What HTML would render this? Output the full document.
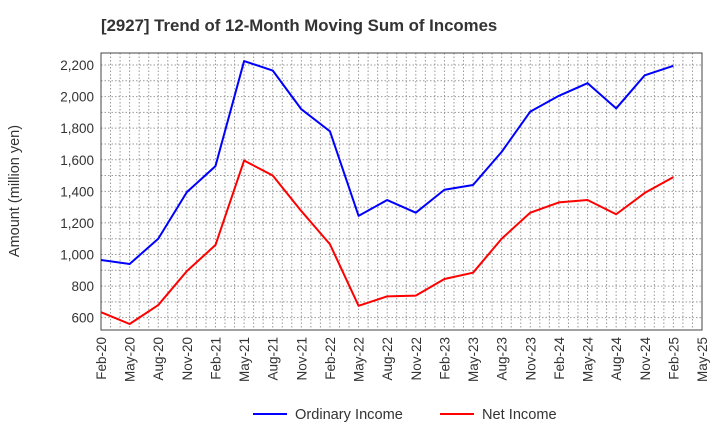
<!DOCTYPE html>
<html><head><meta charset="utf-8"><style>
body{margin:0;background:#fff;font-family:"Liberation Sans",Arial,sans-serif}
</style></head><body>
<svg id="chart" width="720" height="440" xmlns="http://www.w3.org/2000/svg" font-family="Liberation Sans, Arial, sans-serif">
<text x="101" y="31" font-size="16.8" font-weight="bold" fill="#333">[2927]  Trend of 12-Month Moving Sum of Incomes</text>
<text transform="translate(19,191) rotate(-90)" text-anchor="middle" font-size="14.5" fill="#333">Amount (million yen)</text>
<g id="grid"></g><g id="axes"></g><g id="series"></g>
<g>
<line x1="253" y1="414" x2="287" y2="414" stroke="#0000ff" stroke-width="2"/>
<text x="295" y="419" font-size="14.6" fill="#333">Ordinary Income</text>
<line x1="440" y1="414" x2="474" y2="414" stroke="#ff0000" stroke-width="2"/>
<text x="482" y="419" font-size="14.6" fill="#333">Net Income</text>
</g>
</svg>
<script>
const categories=["Feb-20","May-20","Aug-20","Nov-20","Feb-21","May-21","Aug-21","Nov-21","Feb-22","May-22","Aug-22","Nov-22","Feb-23","May-23","Aug-23","Nov-23","Feb-24","May-24","Aug-24","Nov-24","Feb-25","May-25"];
const ordinaryIncome=[965,940,1100,1395,1560,2225,2165,1920,1780,1245,1345,1265,1410,1440,1650,1905,2005,2085,1925,2135,2195];
const netIncome=[635,560,680,895,1060,1595,1500,1275,1065,675,735,740,845,885,1100,1265,1330,1345,1255,1390,1490];
const yTicks=[600,800,1000,1200,1400,1600,1800,2000,2200];
const yMin=522,yMax=2276;
const L=101,R=702,T=53,B=330;
const NS="http://www.w3.org/2000/svg";
const step=(R-L)/(categories.length-1);
function xs(i){return L+i*step;}
function ys(v){return B-(v-yMin)/(yMax-yMin)*(B-T);}
function mk(tag,attrs,parent){const e=document.createElementNS(NS,tag);for(const k in attrs)e.setAttribute(k,attrs[k]);parent.appendChild(e);return e;}
const grid=document.getElementById('grid'),axes=document.getElementById('axes'),series=document.getElementById('series');
for(let m=1;m<(categories.length-1)*3;m++){const x=L+m*step/3;
 const g=mk('line',{x1:x,x2:x,y1:T,y2:B,stroke:'#999','stroke-dasharray':'1.5,2','stroke-width':1},grid);
 
 }
for(let v=Math.ceil(yMin/100)*100;v<=yMax;v+=100){const y=ys(v);
 const g=mk('line',{x1:L,x2:R,y1:y,y2:y,stroke:'#999','stroke-dasharray':'1.5,2','stroke-width':1},grid);
 
 }
const frame=mk('rect',{x:L,y:T,width:R-L,height:B-T,fill:'none',stroke:'#444','stroke-width':1},axes);


yTicks.forEach(v=>{const t=mk('text',{x:L-7,y:ys(v)+5,'text-anchor':'end','font-size':13.5,fill:'#333'},axes);t.textContent=v.toLocaleString('en-US');
 
 });
categories.forEach((c,i)=>{const x=xs(i);const t=mk('text',{transform:`translate(${x+5},${B+7}) rotate(-90)`,'text-anchor':'end','font-size':13.5,fill:'#333'},axes);t.textContent=c;
 
 });
function line(data,color,name){const p=mk('polyline',{points:data.map((v,i)=>xs(i)+','+ys(v)).join(' '),fill:'none',stroke:color,'stroke-width':2,'stroke-linejoin':'round'},series);
 
 }
line(ordinaryIncome,'#0000ff','ordinary-income-line');
line(netIncome,'#ff0000','net-income-line');
</script>
</body></html>
